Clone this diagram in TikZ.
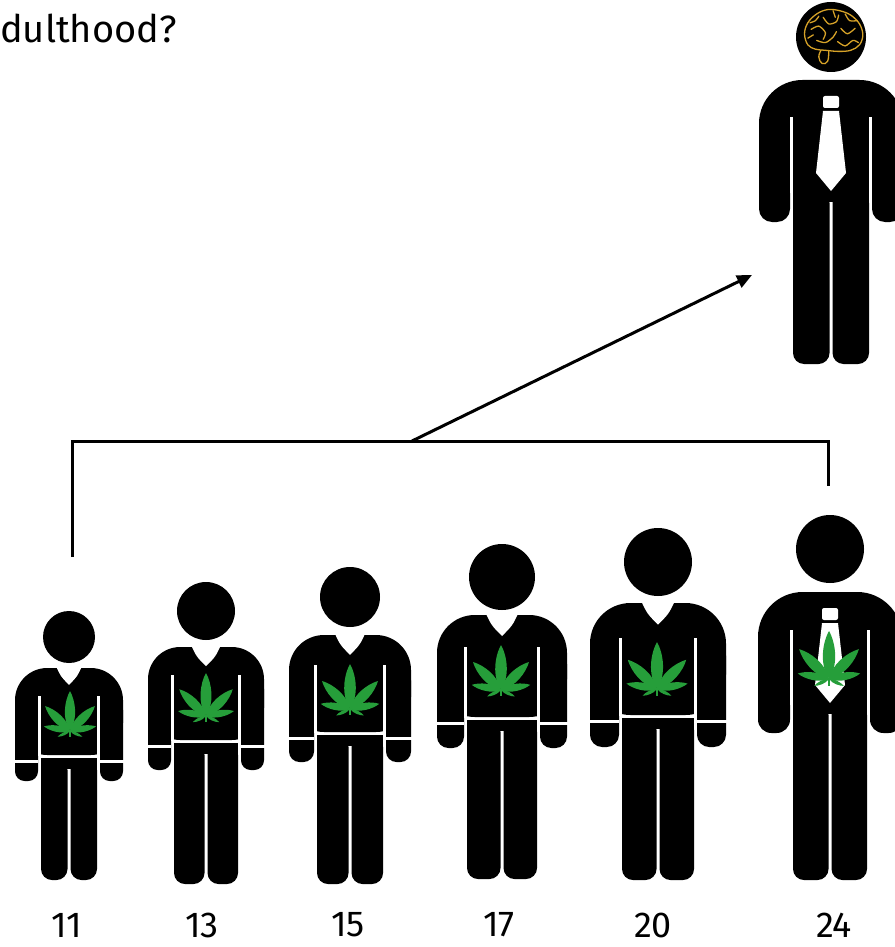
\documentclass[tikz,border=0pt]{standalone}
\usepackage{fontspec}
\setmainfont{Fira Sans}
\usetikzlibrary{arrows.meta}

\definecolor{hemp}{RGB}{38,158,58}
\definecolor{braingold}{RGB}{214,162,40}

% gap between the pictogram parts
\newcommand\gp{3}

% #1 centre x, #2 head centre y, #3 head radius, #4 shoulder line, #5 outer half width,
% #6 torso half width, #7 torso bottom, #8 hand bottom, #9 feet
\newcommand\bodyshape[9]{%
  \pgfmathsetmacro\aw{#5-#6-\gp}%
  \pgfmathsetmacro\sr{1.4*\aw}%
  \pgfmathsetmacro\ar{0.42*\aw}%
  \fill (#1,#2) circle[radius=#3];
  \fill[rounded corners=\sr pt] (#1-#5,#4) rectangle (#1+#5,#7);
  \fill[rounded corners=\ar pt] (#1-#5,#4+\sr) rectangle (#1-#6-\gp,#8);
  \fill[rounded corners=\ar pt] (#1+#6+\gp,#4+\sr) rectangle (#1+#5,#8);
  \fill[white] (#1-#6-\gp,#4+1.2*\aw) rectangle (#1-#6,#7+0.5);
  \fill[white] (#1+#6,#4+1.2*\aw) rectangle (#1+#6+\gp,#7+0.5);
  \fill (#1-#6,\legtop) rectangle (#1+#6,\legtop+11);
  \fill[rounded corners=11pt] (#1-#6,\legtop+1) rectangle (#1-\gp/2,#9);
  \fill[rounded corners=11pt] (#1+\gp/2,\legtop+1) rectangle (#1+#6,#9);
}

% child in a V-neck sweater with a belt line
\newcommand\kid[9]{%
  \def\legtop{#7+\gp}%
  \bodyshape{#1}{#2}{#3}{#4}{#5}{#6}{#7}{#8}{#9}
  \fill[white] (#1-#6*0.48,#4-3) -- (#1+#6*0.48,#4-3)
    .. controls (#1+#6*0.3,#4+0.3*#6) .. (#1,#4+0.6*#6)
    .. controls (#1-#6*0.3,#4+0.3*#6) .. cycle;
  \fill[white] (#1-#5-1,#7+5) rectangle (#1-#6-\gp,#7+5+\gp);
  \fill[white] (#1+#6+\gp,#7+5) rectangle (#1+#5+1,#7+5+\gp);
}

% grown-up in a suit with a tie
\newcommand\suit[9]{%
  \def\legtop{#7-1}%
  \bodyshape{#1}{#2}{#3}{#4}{#5}{#6}{#7}{#8}{#9}
  \fill[white, rounded corners=2pt] (#1-8,#4+16) rectangle (#1+8,#4+28);
  \fill[white] (#1-8,#4+31) -- (#1+8,#4+31) -- (#1+15,#4+93) -- (#1,#4+111)
    -- (#1-15,#4+93) -- cycle;
}

\tikzset{
  hempleaf/.pic={
    \foreach \lfa/\lfl/\lfw in {0/1/0.2, 45/0.88/0.2, -45/0.88/0.2,
        80/0.66/0.19, -80/0.66/0.19, 115/0.34/0.17, -115/0.34/0.17}{
      \fill[hemp, rotate=\lfa] (0,0)
        .. controls (\lfw*\lfl,-0.3*\lfl) and (0.7*\lfw*\lfl,-0.75*\lfl) .. (0,-\lfl)
        .. controls (-0.7*\lfw*\lfl,-0.75*\lfl) and (-\lfw*\lfl,-0.3*\lfl) .. cycle;
    }
    \draw[hemp, line width=1.2pt] (0,0) -- (0,0.14);
  },
  bracket/.style={line width=3pt, line join=miter},
  pointer/.style={line width=3pt, -{Triangle[length=15pt, width=13pt]}},
  agelabel/.style={font=\fontsize{36}{40}\selectfont, inner sep=0pt},
}

\begin{document}
\begin{tikzpicture}[x=1pt, y=-1pt]
  \useasboundingbox (0,0) rectangle (894,947);

  \node[anchor=base west, font=\fontsize{38}{44}\selectfont, inner sep=0pt] (title) at (0,43) {dulthood?};

  % the six ages
  \kid{69}{637}{26}{668}{54}{28}{755}{781}{880}
  \kid{206}{611}{29}{647}{58}{32}{740}{770}{884}
  \kid{350}{597}{30}{635}{61}{33}{732}{762}{884}
  \kid{502}{577}{33}{615}{65}{35}{717}{748}{879}
  \kid{658}{562}{34}{603}{68}{36}{715}{747}{880}
  \suit{830}{549}{34}{592}{72}{37}{704}{733}{880}

  \pic[scale=40] at (70,731) {hempleaf};
  \pic[scale=43] at (206,716) {hempleaf};
  \pic[scale=45] at (350,709) {hempleaf};
  \pic[scale=45] at (501,690) {hempleaf};
  \pic[scale=47] at (657,689) {hempleaf};
  \pic[scale=48] at (829,679) {hempleaf};

  % the adult with the brain
  \suit{831}{37}{35}{80}{72}{38}{192}{222}{364}
  \begin{scope}[shift={(832,36)}, scale=1.1, braingold, line width=1.3pt, line cap=round, line join=round]
    \draw plot[smooth cycle, tension=0.6] coordinates {(-22,8) (-25,-2) (-22,-12) (-14,-20)
      (-4,-24) (7,-23) (17,-19) (25,-11) (28,-1) (25,8) (17,13) (6,14) (-6,13) (-15,12)};
    \draw plot[smooth, tension=0.7] coordinates {(-10,13) (-12,19) (-9,25) (-4,23) (-3,14)};
    \draw plot[smooth] coordinates {(-19,-6) (-12,-9) (-6,-3) (-8,3)};
    \draw plot[smooth] coordinates {(-8,-17) (-3,-11) (4,-13) (6,-19)};
    \draw plot[smooth] coordinates {(8,-7) (14,-2) (21,-7)};
    \draw plot[smooth] coordinates {(-14,4) (-6,6) (1,1) (4,-4)};
    \draw plot[smooth] coordinates {(5,5) (12,9) (19,4) (24,6)};
    \draw plot[smooth] coordinates {(1,-23) (3,-17)};
    \draw plot[smooth] coordinates {(12,-20) (16,-14) (23,-14)};
    \draw plot[smooth] coordinates {(-20,-12) (-15,-14) (-12,-18)};
    \draw plot[smooth] coordinates {(-22,2) (-17,-1)};
  \end{scope}

  % age labels
  \node[agelabel] (a11) at (67,925) {11};
  \node[agelabel] (a13) at (202,925) {13};
  \node[agelabel] (a15) at (348,925) {15};
  \node[agelabel] (a17) at (499,925) {17};
  \node[agelabel] (a20) at (653,925) {20};
  \node[agelabel] (a24) at (834,925) {24};

  % bracket over the ages and the arrow to adulthood
  \coordinate (brL) at (72,557);
  \coordinate (brLt) at (72,441);
  \coordinate (brRt) at (828,441);
  \coordinate (brR) at (828,486);
  \coordinate (brMid) at (412,441);
  \coordinate (adult) at (752,275);
  \draw[bracket] (brL) -- (brLt) -- (brRt) -- (brR);
  \draw[pointer] (brMid) -- (adult);
\end{tikzpicture}
\end{document}
